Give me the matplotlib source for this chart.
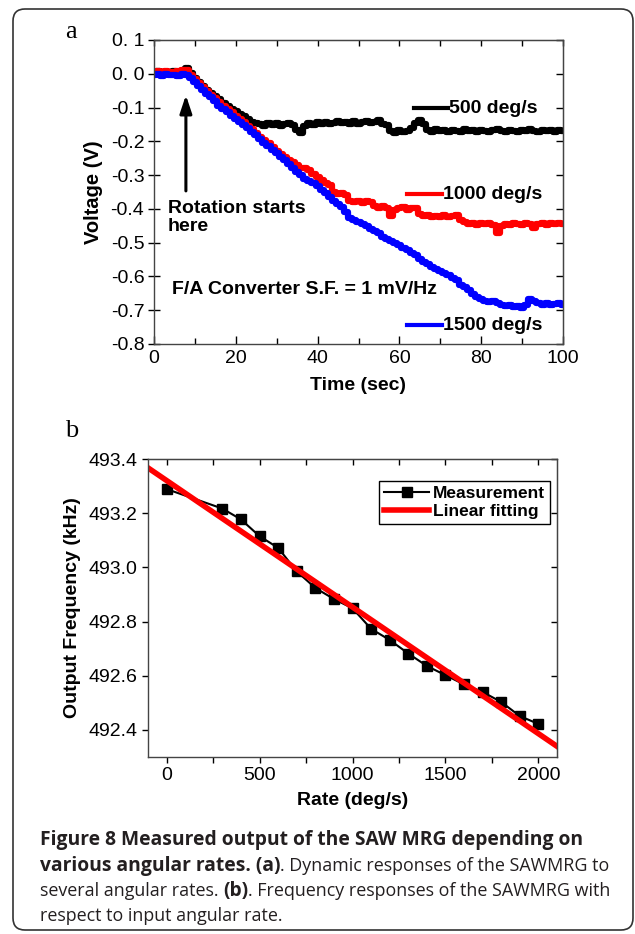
import matplotlib
matplotlib.use('Agg')
import matplotlib.pyplot as plt
import numpy as np
from matplotlib.patches import FancyBboxPatch

plt.rcParams['font.family'] = ['Liberation Sans', 'DejaVu Sans']

# ---- panel a data: voltage vs time (sec) at 1 s steps
t_sec = np.arange(0, 101)
v500 = [0.005, 0.008, 0.004, 0.006, 0.003, 0.007, 0.005, 0.009, 0.018, 0.002,
        -0.012, -0.024, -0.036, -0.047, -0.058, -0.066, -0.076, -0.086, -0.094, -0.104,
        -0.110, -0.118, -0.126, -0.134, -0.142, -0.147, -0.150, -0.155, -0.146, -0.152,
        -0.147, -0.156, -0.150, -0.145, -0.153, -0.166, -0.174, -0.156, -0.146, -0.151,
        -0.143, -0.148, -0.142, -0.150, -0.145, -0.140, -0.147, -0.143, -0.149, -0.141,
        -0.148, -0.144, -0.139, -0.147, -0.142, -0.137, -0.148, -0.153, -0.170, -0.176,
        -0.167, -0.173, -0.168, -0.160, -0.145, -0.138, -0.150, -0.166, -0.171, -0.164,
        -0.170, -0.166, -0.172, -0.165, -0.169, -0.171, -0.164, -0.170, -0.166, -0.173,
        -0.165, -0.169, -0.171, -0.166, -0.164, -0.170, -0.172, -0.165, -0.169, -0.171,
        -0.166, -0.170, -0.164, -0.169, -0.172, -0.166, -0.170, -0.165, -0.171, -0.167,
        -0.168]
v1000 = [0.004, 0.007, 0.005, 0.008, 0.006, 0.004, 0.007, 0.010, 0.012, -0.004,
         -0.016, -0.028, -0.040, -0.052, -0.062, -0.072, -0.084, -0.094, -0.104, -0.114,
         -0.124, -0.134, -0.144, -0.154, -0.164, -0.176, -0.186, -0.196, -0.206, -0.216,
         -0.228, -0.238, -0.246, -0.254, -0.262, -0.270, -0.278, -0.280, -0.284, -0.296,
         -0.306, -0.314, -0.322, -0.330, -0.350, -0.356, -0.352, -0.358, -0.376, -0.380,
         -0.376, -0.382, -0.378, -0.380, -0.392, -0.396, -0.390, -0.398, -0.420, -0.402,
         -0.398, -0.394, -0.402, -0.398, -0.396, -0.416, -0.422, -0.418, -0.424, -0.420,
         -0.423, -0.418, -0.425, -0.421, -0.419, -0.432, -0.440, -0.446, -0.442, -0.447,
         -0.443, -0.445, -0.441, -0.448, -0.470, -0.452, -0.444, -0.447, -0.442, -0.446,
         -0.449, -0.443, -0.445, -0.456, -0.444, -0.441, -0.447, -0.443, -0.446, -0.442,
         -0.445]
v1500 = [-0.004, -0.001, -0.006, -0.002, -0.005, -0.003, -0.006, -0.001, -0.004, -0.012,
         -0.024, -0.036, -0.048, -0.060, -0.070, -0.082, -0.094, -0.104, -0.114, -0.124,
         -0.134, -0.144, -0.152, -0.162, -0.172, -0.182, -0.194, -0.204, -0.214, -0.226,
         -0.236, -0.246, -0.256, -0.266, -0.278, -0.290, -0.300, -0.312, -0.316, -0.322,
         -0.332, -0.344, -0.352, -0.366, -0.378, -0.386, -0.394, -0.410, -0.428, -0.432,
         -0.438, -0.446, -0.452, -0.460, -0.466, -0.472, -0.484, -0.490, -0.494, -0.502,
         -0.508, -0.516, -0.522, -0.530, -0.536, -0.548, -0.556, -0.562, -0.572, -0.578,
         -0.584, -0.590, -0.596, -0.604, -0.612, -0.624, -0.630, -0.640, -0.652, -0.660,
         -0.668, -0.672, -0.676, -0.674, -0.678, -0.684, -0.688, -0.686, -0.690, -0.688,
         -0.692, -0.686, -0.668, -0.672, -0.680, -0.684, -0.678, -0.686, -0.682, -0.680,
         -0.684]
series_names = ['500 deg/s', '1000 deg/s', '1500 deg/s']
series_colors = ['#000000', '#ff0000', '#0000ff']

volt_ticks = [0.1, 0.0, -0.1, -0.2, -0.3, -0.4, -0.5, -0.6, -0.7, -0.8]
volt_labels = ['0. 1', '0. 0', '-0.1', '-0.2', '-0.3', '-0.4', '-0.5', '-0.6', '-0.7', '-0.8']
time_ticks = [0, 20, 40, 60, 80, 100]

# ---- panel b data: output frequency vs rate
rate = [0, 300, 400, 500, 600, 700, 800, 900, 1000, 1100, 1200,
        1300, 1400, 1500, 1600, 1700, 1800, 1900, 2000]
freq = [493.289, 493.217, 493.177, 493.115, 493.072, 492.985, 492.924, 492.883,
        492.849, 492.773, 492.732, 492.682, 492.636, 492.602, 492.568, 492.540,
        492.503, 492.451, 492.422]
freq_ticks = [493.4, 493.2, 493.0, 492.8, 492.6, 492.4]
freq_labels = ['493.4', '493.2', '493.0', '492.8', '492.6', '492.4']
rate_ticks = [0, 500, 1000, 1500, 2000]

W, H = 635, 934
fig = plt.figure(figsize=(W / 100, H / 100), dpi=100)


def px_rect(l, t, r, b):
    return [l / W, 1 - b / H, (r - l) / W, (b - t) / H]


# ================= panel a =================
axA = fig.add_axes(px_rect(154, 40, 563, 344))
for vals, c in zip([v500, v1000, v1500], series_colors):
    axA.plot(t_sec, vals, color=c, lw=4.5, drawstyle='steps-mid')
axA.set_xlim(0, 100)
axA.set_ylim(-0.8, 0.1)
axA.set_yticks(volt_ticks, volt_labels)
axA.set_xticks(time_ticks)
axA.set_xticks(np.arange(10, 100, 20), minor=True)
for sp in axA.spines.values():
    sp.set_color('#444444')
    sp.set_linewidth(1.0)
axA.tick_params(axis='y', direction='inout', length=8, width=1, labelsize=14, pad=3)
axA.tick_params(axis='x', which='major', direction='in', length=6, width=1, labelsize=14, pad=4)
axA.tick_params(axis='x', which='minor', direction='in', length=4, width=1)
topA = axA.secondary_xaxis('top')
topA.set_xticks(np.arange(0, 101, 10))
topA.tick_params(direction='in', length=4, width=1, labeltop=False)
topA.spines['top'].set_color('#444444')
rightA = axA.secondary_yaxis('right')
rightA.set_yticks(volt_ticks)
rightA.tick_params(direction='in', length=5, width=1, labelright=False)
rightA.spines['right'].set_color('#444444')
axA.set_xlabel('Time (sec)', fontsize=14, fontweight='bold')
axA.set_ylabel('Voltage (V)', fontsize=14.5, fontweight='bold')
axA.xaxis.set_label_coords(0.5, -0.11)
axA.yaxis.set_label_coords(-0.125, 0.5)

# series labels with short key lines
key_x = [(63.6, 71.9), (61.9, 70.4), (61.9, 70.4)]
key_y = [-0.102, -0.356, -0.744]
for name, c, (x0, x1), y in zip(series_names, series_colors, key_x, key_y):
    axA.plot([x0, x1], [y, y], color=c, lw=3)
    axA.text(x1 + 0.3, y, name, fontsize=14, fontweight='bold', va='center', ha='left')

axA.annotate('', xy=(7.8, -0.055), xytext=(7.8, -0.355),
             arrowprops=dict(arrowstyle='-|>,head_length=0.6,head_width=0.2', lw=2.2,
                             color='black', mutation_scale=18))
axA.text(3.4, -0.375, 'Rotation starts\nhere', fontsize=14, fontweight='bold',
         va='top', ha='left', linespacing=1.05)
axA.text(4.4, -0.640, 'F/A Converter S.F. = 1 mV/Hz', fontsize=14,
         fontweight='bold', va='center', ha='left')

# ================= panel b =================
axB = fig.add_axes(px_rect(148, 459, 557, 757))
fit = np.polyfit(rate, freq, 1)
xfit = np.array([-100, 2100])
axB.plot(rate, freq, color='black', lw=1.5, marker='s', markersize=7, label='Measurement')
axB.plot(xfit, np.polyval(fit, xfit), color='#ff0000', lw=4, label='Linear fitting')
axB.set_xlim(-100, 2100)
axB.set_ylim(492.3, 493.4)
axB.set_yticks(freq_ticks, freq_labels)
axB.set_xticks(rate_ticks)
axB.set_xticks(np.arange(250, 2100, 500), minor=True)
for sp in axB.spines.values():
    sp.set_color('#444444')
    sp.set_linewidth(1.0)
axB.tick_params(axis='both', which='both', direction='out', length=4, width=1, labelsize=14)
topB = axB.secondary_xaxis('top')
topB.set_xticks(np.arange(0, 2100, 250))
topB.tick_params(direction='in', length=4, width=1, labeltop=False)
topB.spines['top'].set_color('#444444')
rightB = axB.secondary_yaxis('right')
rightB.set_yticks(freq_ticks)
rightB.tick_params(direction='in', length=4, width=1, labelright=False)
rightB.spines['right'].set_color('#444444')
axB.set_xlabel('Rate (deg/s)', fontsize=14, fontweight='bold')
axB.set_ylabel('Output Frequency (kHz)', fontsize=14, fontweight='bold')
axB.xaxis.set_label_coords(0.5, -0.117)
axB.yaxis.set_label_coords(-0.163, 0.5)
leg = axB.legend(loc='upper right', bbox_to_anchor=(0.983, 0.926), borderaxespad=0,
                 fancybox=False, edgecolor='black', framealpha=1, handlelength=2.6,
                 handletextpad=0.2, borderpad=0.3, labelspacing=0.15,
                 prop={'weight': 'bold', 'size': 12.5})
leg.get_frame().set_linewidth(1.0)

# ================= panel letters, caption, border =================
fig.text(71 / W, 1 - 32 / H, 'a', family='Liberation Serif', fontsize=19, ha='center', va='center')
fig.text(72 / W, 1 - 431 / H, 'b', family='Liberation Serif', fontsize=19, ha='center', va='center')

caption_lines = [
    [('Figure 8 Measured output of the SAW MRG depending on', 'bold')],
    [('various angular rates. (a)', 'bold'), ('. Dynamic responses of the SAWMRG to', 'normal')],
    [('several angular rates. ', 'normal'), ('(b)', 'bold'),
     ('. Frequency responses of the SAWMRG with', 'normal')],
    [('respect to input angular rate.', 'normal')],
]
caption_size = {'bold': 13.9, 'normal': 12.9}
caption_base = [845, 871, 896, 921]
renderer = fig.canvas.get_renderer()
for line, yb in zip(caption_lines, caption_base):
    x = 40 / W
    for s, w in line:
        t = fig.text(x, 1 - yb / H, s, family=['Open Sans', 'DejaVu Sans'],
                     fontsize=caption_size[w], fontweight=w, color='#231f20',
                     ha='left', va='baseline')
        bb = t.get_window_extent(renderer)
        x = bb.x1 / fig.bbox.width

box = FancyBboxPatch((0.13, 0.04), 6.20, 9.21, boxstyle='round,pad=0,rounding_size=0.12',
                     transform=fig.dpi_scale_trans, fill=False, edgecolor='#333333', lw=1.2)
fig.patches.append(box)

fig.savefig('out.png', dpi=100)
